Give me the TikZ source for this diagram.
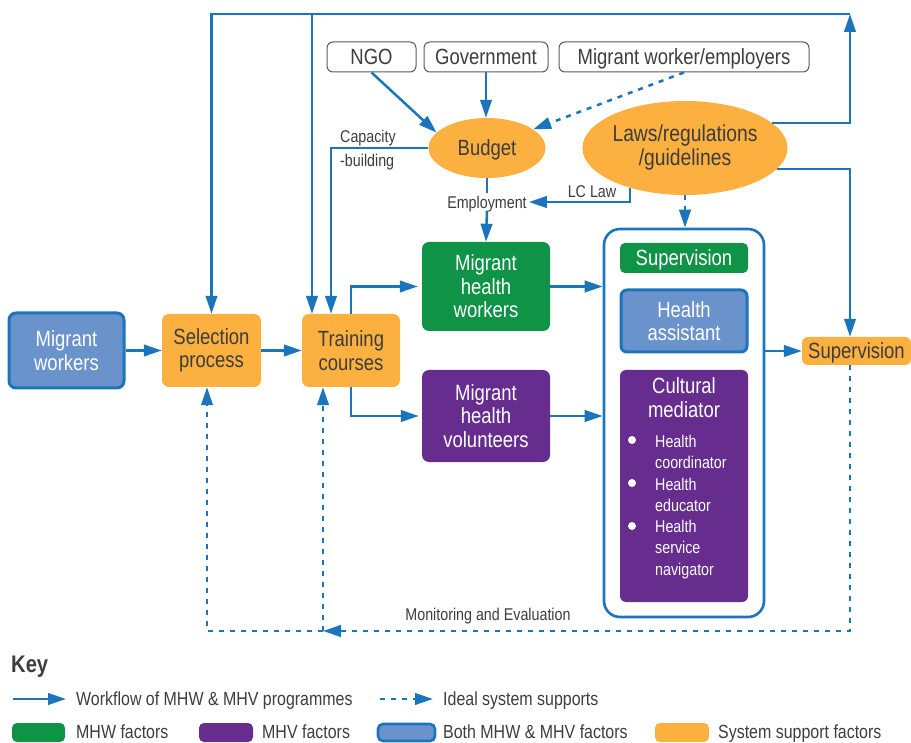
\documentclass[tikz,border=0pt]{standalone}
\usepackage{fontspec}
\setmainfont{Liberation Sans}[FakeStretch=0.84]
\usetikzlibrary{arrows.meta,shapes.geometric}
\definecolor{flow}{HTML}{1B75BC}
\definecolor{sysor}{HTML}{FBB040}
\definecolor{mhwgreen}{HTML}{0F9347}
\definecolor{mhvpurple}{HTML}{662D8F}
\definecolor{bothblue}{HTML}{6A92CB}
\definecolor{ink}{HTML}{3D3D3D}
\newcommand\boxfont{\fontsize{22}{23.5}\selectfont}
\newcommand\srcfont{\fontsize{22}{23}\selectfont}
\newcommand\lawfont{\fontsize{23}{24}\selectfont}
\newcommand\lblfont{\fontsize{17}{24}\selectfont}
\newcommand\itemfont{\fontsize{17}{21.5}\selectfont}
\newcommand\keyfont{\fontsize{19}{22}\selectfont}
\tikzset{
  conn/.style={draw=flow, line width=2.5pt},
  flowarrow/.style={conn, -{Triangle[length=18pt,width=11.5pt]}},
  idealpath/.style={conn, dash pattern=on 5pt off 6pt},
  idealarrow/.style={idealpath, -{Triangle[length=18pt,width=11.5pt]}},
  factor/.style={rectangle, rounded corners=7pt, inner sep=0pt, align=center,
    font=\boxfont, text=white},
  oneline/.style={text height=16pt, text depth=0.5pt},
  sysbox/.style={factor, fill=sysor, text=ink},
  mhwbox/.style={factor, fill=mhwgreen},
  mhvbox/.style={factor, fill=mhvpurple},
  bothbox/.style={factor, fill=bothblue, draw=flow, line width=3pt},
  sysell/.style={ellipse, fill=sysor, text=ink, inner sep=0pt, align=center},
  source/.style={rectangle, rounded corners=6pt, draw=ink!85, line width=1pt,
    inner sep=0pt, font=\srcfont, text=ink, minimum height=30pt, oneline},
  lbl/.style={font=\lblfont, text=ink, inner sep=2pt, text height=12.5pt, text depth=0.3pt},
  itemtxt/.style={font=\itemfont, text=white, inner sep=0pt, anchor=base west},
  keytxt/.style={font=\keyfont, text=ink, inner sep=0pt, anchor=west, text height=13.5pt, text depth=0.5pt},
  swatch/.style={rectangle, rounded corners=5pt, minimum height=19pt, inner sep=0pt},
}
\begin{document}
\begin{tikzpicture}[x=1pt, y=-1pt]
\useasboundingbox (0,0) rectangle (911,743);

% ---- sources and system supports ----
\node[source, minimum width=89pt]  (ngo) at (371.5,57) {NGO};
\node[source, minimum width=124pt] (gov) at (486,57)   {Government};
\node[source, minimum width=250pt] (mwe) at (684,57)   {Migrant worker/employers};

\node[sysell, font=\boxfont, oneline, minimum width=117pt, minimum height=60pt] (budget) at (487,148) {Budget};
\node[sysell, font=\lawfont, minimum width=202pt, minimum height=94pt] (laws) at (685,148) {Laws/regulations\\/guidelines};

% ---- programme workflow ----
\node[bothbox, minimum width=115pt, minimum height=75pt] (mw)  at (66.5,350.5) {Migrant\\workers};
\node[sysbox,  minimum width=99pt,  minimum height=73pt] (sel) at (211.5,350.5) {Selection\\process};
\node[sysbox,  minimum width=98pt,  minimum height=73pt] (trn) at (351,350.5) {Training\\courses};
\node[mhwbox,  minimum width=128pt, minimum height=89pt] (mhw) at (486,286.5) {Migrant\\health\\workers};
\node[mhvbox,  minimum width=128pt, minimum height=92pt] (mhv) at (486,416) {Migrant\\health\\volunteers};

% ---- roles ----
\node[rectangle, rounded corners=16pt, draw=flow, line width=2.6pt, fill=white,
      minimum width=160pt, minimum height=388pt] (cont) at (684,423) {};
\node[mhwbox, oneline, rounded corners=5pt, minimum width=128pt, minimum height=30pt] (sup1) at (684,258) {Supervision};
\node[bothbox, rounded corners=6pt, minimum width=126pt, minimum height=62pt] (ha) at (684,321) {Health\\assistant};
\node[mhvbox,  rounded corners=6pt, minimum width=128pt, minimum height=232pt] (cm) at (684,486) {};
\node[font=\fontsize{22}{24}\selectfont, text=white, align=center, inner sep=0pt] (cmt) at (684,398) {Cultural\\mediator};
\foreach \yy in {440,483,526} \fill[white] (632,\yy) circle (4pt);
\node[itemtxt] (it1a) at (655,447)   {Health};
\node[itemtxt] (it1b) at (655,468.5) {coordinator};
\node[itemtxt] (it2a) at (655,490)   {Health};
\node[itemtxt] (it2b) at (655,511.5) {educator};
\node[itemtxt] (it3a) at (655,532)   {Health};
\node[itemtxt] (it3b) at (655,553.5) {service};
\node[itemtxt] (it3c) at (655,575)   {navigator};

\node[sysbox, oneline, rounded corners=6pt, minimum width=109pt, minimum height=28pt] (sup2) at (856.5,351) {Supervision};

% ---- labels ----
\node[lbl] (emp) at (487,202) {Employment};
\node[lbl] (lclaw) at (592,191) {LC Law};
\node[lbl, anchor=west] (cap1) at (338,136) {Capacity};
\node[lbl, anchor=west] (cap2) at (338,160) {-building};
\node[lbl] (me) at (488,614) {Monitoring and Evaluation};

% ---- routing points ----
\coordinate (topR) at (850,14);
\coordinate (branchT) at (312,14);
\coordinate (meT) at (323,631);
\coordinate (meL) at (207,631);

% ---- connectors ----
\draw[flowarrow] (ngo.south) -- (budget.163);
\draw[flowarrow] (gov.south) -- (gov.south |- budget.north);
\draw[idealarrow] (mwe.south) -- (budget.22);

\draw[flowarrow] (laws.16) -| (topR);
\draw[flowarrow] (topR) -| (sel.north);
\draw[flowarrow] (branchT) -- (branchT |- trn.north);
\draw[flowarrow] (budget.west) -| ([xshift=-20pt]trn.north);

\draw[conn] (budget.south) -- (emp.north);
\draw[flowarrow] (emp.south) -- (mhw.north);
\draw[flowarrow] (laws.216) |- (emp.east);
\draw[idealarrow] (laws.south) -- (laws.south |- cont.north);
\draw[flowarrow] (laws.-13) -| ([xshift=-6.5pt]sup2.north);

\draw[flowarrow] (mw.east) -- (sel.west);
\draw[flowarrow] (sel.east) -- (trn.west);
\draw[flowarrow, shorten >=4pt] (trn.north) |- (mhw.west);
\draw[flowarrow, shorten >=3pt] (trn.south) |- (mhv.west);
\draw[flowarrow] (mhw.east) -- (mhw.east -| cont.west);
\draw[flowarrow] (mhv.east) -- (mhv.east -| cont.west);
\draw[flowarrow] (cont.east |- sup2.west) -- (sup2.west);

\draw[idealarrow] ([xshift=-6.5pt]sup2.south) |- (meT);
\draw[idealarrow] (meT) -- (meL) -- (meL |- sel.south);
\draw[idealarrow] (meT) -- (meT |- trn.south);

% ---- key ----
\node[font=\fontsize{24}{26}\selectfont\bfseries, text=ink, anchor=west, inner sep=0pt] (keyhd) at (11,667) {Key};
\coordinate (k1a) at (13,699);
\coordinate (k1b) at (66,699);
\draw[flowarrow] (k1a) -- (k1b);
\node[keytxt] (k1t) at (76,699) {Workflow of MHW \& MHV programmes};
\coordinate (k2a) at (380,699);
\coordinate (k2b) at (433,699);
\draw[idealarrow] (k2a) -- (k2b);
\node[keytxt] (k2t) at (443,699) {Ideal system supports};

\node[swatch, fill=mhwgreen, minimum width=53pt] (s1) at (38.5,732.5) {};
\node[keytxt] (s1t) at (76,732) {MHW factors};
\node[swatch, fill=mhvpurple, minimum width=54pt] (s2) at (226,732.5) {};
\node[keytxt] (s2t) at (262,732) {MHV factors};
\node[swatch, fill=bothblue, draw=flow, line width=2.6pt, minimum width=57pt, minimum height=17pt] (s3) at (406.5,732.5) {};
\node[keytxt] (s3t) at (443,732) {Both MHW \& MHV factors};
\node[swatch, fill=sysor, minimum width=54pt] (s4) at (682,732.5) {};
\node[keytxt] (s4t) at (718,732) {System support factors};
\end{tikzpicture}
\end{document}
